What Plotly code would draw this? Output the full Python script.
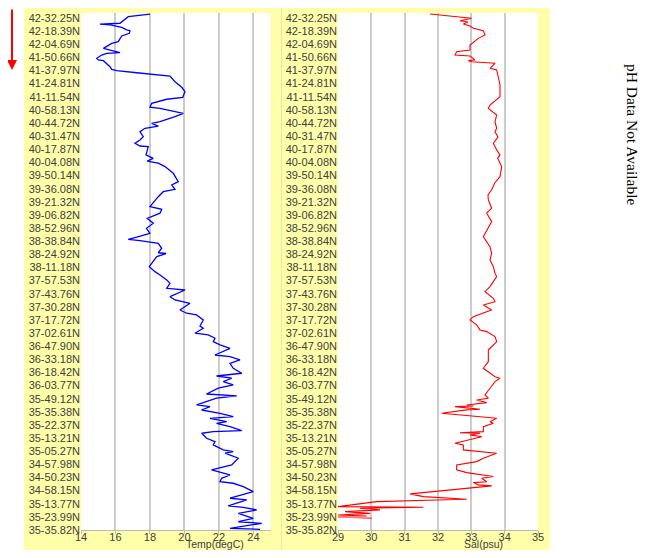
import plotly.graph_objects as go

# Track position (label units, 0 = first label at top) and values
lat_labels = ["42-32.25N", "42-18.39N", "42-04.69N", "41-50.66N", "41-37.97N", "41-24.81N",
              "41-11.54N", "40-58.13N", "40-44.72N", "40-31.47N", "40-17.87N", "40-04.08N",
              "39-50.14N", "39-36.08N", "39-21.32N", "39-06.82N", "38-52.96N", "38-38.84N",
              "38-24.92N", "38-11.18N", "37-57.53N", "37-43.76N", "37-30.28N", "37-17.72N",
              "37-02.61N", "36-47.90N", "36-33.18N", "36-18.42N", "36-03.77N", "35-49.12N",
              "35-35.38N", "35-22.37N", "35-13.21N", "35-05.27N", "34-57.98N", "34-50.23N",
              "34-58.15N", "35-13.77N", "35-23.99N", "35-35.82N"]

temp_track = [-0.30, -0.10, 0.40, 0.46, 0.53, 0.61, 0.71, 0.91, 0.97, 1.17, 1.37, 1.80, 1.93,
              2.31, 2.44, 2.64, 2.69, 2.82, 3.07, 3.20, 3.25, 3.45, 3.71, 3.91, 4.01, 4.17,
              4.42, 4.85, 5.28, 5.61, 6.04, 6.19, 6.50, 6.80, 6.88, 7.26, 7.52, 7.90, 8.02,
              8.23, 8.40, 8.66, 9.04, 9.29, 9.54, 9.75, 9.80, 10.43, 10.69, 10.90, 11.05,
              11.32, 11.83, 12.47, 12.72, 13.05, 13.23, 13.61, 13.91, 14.37, 14.57, 14.87,
              15.26, 15.64, 16.02, 16.40, 16.70, 16.86, 16.96, 17.16, 17.54, 17.88, 17.94,
              18.18, 18.94, 19.32, 19.57, 19.95, 20.21, 20.59, 20.72, 21.23, 21.48, 21.73,
              22.24, 22.49, 22.62, 23.00, 23.46, 23.63, 24.01, 24.14, 24.39, 24.65, 24.90,
              25.16, 25.67, 25.80, 26.05, 26.30, 26.68, 27.06, 27.27, 27.44, 27.70, 27.95,
              28.20, 28.64, 28.79, 28.96, 29.47, 29.60, 29.86, 29.98, 30.11, 30.37, 30.49,
              30.75, 30.87, 31.13, 31.43, 31.51, 31.63, 32.01, 32.27, 32.52, 32.90, 33.03,
              33.15, 33.53, 34.04, 34.42, 34.68, 34.81, 35.06, 35.32, 35.44, 35.70, 36.08,
              36.58, 36.71, 37.17, 37.27, 37.47, 37.73, 38.11, 38.37, 38.49, 38.87, 38.95]
temp_vals = [18.00, 16.74, 16.26, 15.10, 15.70, 16.07, 16.36, 16.65, 16.84, 16.80, 16.36, 16.16,
             15.78, 15.30, 15.68, 16.26, 15.49, 15.20, 14.91, 15.00, 15.30, 15.49, 15.68, 15.78,
             16.07, 17.23, 19.16, 19.45, 19.84, 20.03, 19.90, 18.97, 18.10, 18.00, 18.58, 19.93,
             19.45, 18.58, 18.10, 18.48, 17.71, 17.42, 17.61, 17.42, 17.13, 17.42, 17.90, 17.77,
             18.19, 17.84, 18.48, 18.87, 19.35, 19.64, 19.26, 19.45, 18.77, 18.48, 18.29, 18.00,
             18.68, 18.58, 17.84, 18.19, 17.80, 18.00, 17.23, 16.74, 17.42, 18.48, 18.68, 18.48,
             18.93, 18.39, 17.96, 18.29, 18.58, 18.97, 19.16, 18.97, 20.03, 19.16, 19.45, 20.32,
             19.74, 20.13, 20.70, 21.09, 20.90, 21.09, 20.61, 21.38, 21.77, 21.67, 22.06, 22.64,
             21.77, 22.64, 23.22, 22.64, 22.83, 23.32, 21.86, 22.74, 22.25, 22.83, 21.96, 21.28,
             23.03, 21.86, 20.70, 21.48, 21.00, 21.57, 22.06, 22.83, 21.48, 22.45, 21.86, 22.64,
             23.32, 21.67, 21.00, 21.28, 21.77, 21.67, 22.25, 22.83, 22.35, 23.12, 22.74, 21.57,
             22.25, 22.64, 22.15, 22.06, 22.83, 23.41, 23.99, 22.64, 23.61, 22.54, 23.41, 24.19,
             23.12, 23.99, 23.12, 24.48, 22.64, 24.38]

sal_track = [-0.30, 0.02, 0.21, 0.30, 0.46, 0.61, 0.78, 0.97, 1.29, 1.55, 2.06, 2.44, 2.57,
             2.82, 2.89, 3.20, 3.25, 3.33, 3.45, 3.83, 3.96, 4.47, 5.10, 5.99, 6.19, 6.63,
             6.88, 7.21, 7.39, 7.90, 8.40, 8.66, 9.06, 9.54, 10.05, 10.43, 10.69, 11.32,
             12.09, 12.57, 13.09, 13.48, 13.86, 14.49, 14.87, 15.51, 15.99, 16.66, 17.42,
             17.92, 18.43, 18.94, 19.44, 19.70, 20.46, 20.84, 21.35, 21.61, 21.86, 22.24,
             22.37, 22.75, 23.00, 23.38, 23.76, 23.89, 24.27, 24.65, 25.29, 26.18, 26.68,
             26.94, 27.32, 27.44, 27.70, 28.20, 28.71, 28.96, 29.10, 29.30, 29.48, 29.55,
             29.60, 29.80, 29.85, 30.11, 30.49, 30.75, 30.87, 31.13, 31.51, 31.59, 31.63,
             31.76, 31.89, 32.39, 32.52, 32.90, 33.03, 33.15, 33.53, 33.79, 34.04, 34.42,
             34.63, 34.73, 34.93, 35.06, 35.32, 35.39, 35.56, 35.64, 35.81, 36.25, 36.46,
             36.66, 36.71, 36.84, 37.22, 37.27, 37.34, 37.47, 37.60, 37.73, 37.86, 37.93,
             38.01, 38.11]
sal_vals = [31.76, 33.01, 32.66, 32.90, 32.76, 32.96, 33.06, 33.36, 33.41, 33.21, 32.96, 32.96,
            32.56, 32.51, 32.96, 33.11, 32.91, 33.01, 33.71, 33.56, 33.76, 33.81, 33.86, 33.86,
            33.76, 33.56, 33.51, 33.66, 33.76, 33.71, 33.76, 33.71, 33.80, 33.66, 33.76, 33.86,
            33.79, 33.91, 33.86, 33.70, 33.61, 33.50, 33.51, 33.61, 33.46, 33.61, 33.50, 33.36,
            33.56, 33.61, 33.56, 33.66, 33.71, 33.76, 33.56, 33.41, 33.66, 33.71, 33.36, 33.61,
            33.46, 33.06, 32.96, 33.16, 33.26, 33.46, 33.71, 33.76, 33.51, 33.51, 33.36, 33.51,
            33.71, 33.86, 33.71, 33.56, 33.41, 33.51, 33.16, 33.46, 32.86, 33.06, 32.51, 33.26,
            32.86, 32.11, 33.76, 33.56, 33.66, 33.36, 33.36, 32.66, 33.26, 32.96, 33.31, 32.51,
            32.76, 32.76, 33.36, 33.76, 33.36, 33.16, 32.56, 32.56, 32.86, 33.16, 33.66, 33.31,
            33.46, 33.06, 33.21, 33.61, 32.96, 31.16, 31.56, 32.86, 31.96, 30.16, 29.00, 31.56,
            29.66, 30.26, 29.21, 29.96, 29.00, 29.86, 29.00, 30.01]

temp_ticks = [14, 16, 18, 20, 22, 24]
sal_ticks = [29, 30, 31, 32, 33, 34, 35]

# figure sized to fit inside the page's default 8px body margin
OFF = 8
W, H = 649 - 2 * OFF, 558 - 2 * OFF


def px(x):
    return (x - OFF) / W


def py(y):
    return 1 - (y - OFF) / H


fig = go.Figure()
fig.add_trace(go.Scatter(x=temp_vals, y=temp_track, mode="lines",
                         line=dict(color="#0000FF", width=1.3), xaxis="x", yaxis="y",
                         showlegend=False, hoverinfo="skip"))
fig.add_trace(go.Scatter(x=sal_vals, y=sal_track, mode="lines",
                         line=dict(color="#FF0000", width=1.1), xaxis="x2", yaxis="y2",
                         showlegend=False, hoverinfo="skip"))

tickfont = dict(family="Liberation Sans", size=11, color="#404040")
yr = [39, -0.38]
common_x = dict(showgrid=True, gridcolor="#CCCCCC", gridwidth=1.5, zeroline=False,
                showline=True, linecolor="#BBBBBB", linewidth=1, ticks="outside",
                ticklen=3, tickcolor="#BBBBBB", tickfont=tickfont, ticklabelstandoff=-6,
                automargin=False)
common_y = dict(range=yr, tickmode="array", tickvals=list(range(len(lat_labels))),
                ticktext=lat_labels, showgrid=False, zeroline=False, showline=False,
                ticks="", tickfont=tickfont, automargin=False)

plot_l = [81, 338]
plot_r = [270.7, 538]
plot_t, plot_b = 13, 530

shapes = [
    dict(type="rect", xref="paper", yref="paper", x0=px(24), x1=px(281), y0=py(556), y1=py(2),
         fillcolor="#FFFFAA", line=dict(width=0), layer="below"),
    dict(type="rect", xref="paper", yref="paper", x0=px(282), x1=px(550), y0=py(556), y1=py(2),
         fillcolor="#FFFFAA", line=dict(width=0), layer="below"),
    dict(type="line", xref="paper", yref="paper", x0=px(281.5), x1=px(281.5), y0=py(556), y1=py(2),
         line=dict(color="#E6E6B4", width=1), layer="below"),
]
for l, r in zip(plot_l, plot_r):
    shapes.append(dict(type="rect", xref="paper", yref="paper", x0=px(l), x1=px(r),
                       y0=py(plot_b), y1=py(plot_t), fillcolor="white",
                       line=dict(width=0), layer="below"))

fig.update_layout(
    width=W, height=H, margin=dict(l=0, r=0, t=0, b=0, autoexpand=False),
    paper_bgcolor="white", plot_bgcolor="white",
    xaxis=dict(domain=[px(plot_l[0]), px(plot_r[0])], range=[14, 25], tickvals=temp_ticks,
               anchor="y", **common_x),
    yaxis=dict(domain=[py(plot_b), py(plot_t)], anchor="x", **common_y),
    xaxis2=dict(domain=[px(plot_l[1]), px(plot_r[1])], range=[29, 35], tickvals=sal_ticks,
                anchor="y2", **common_x),
    yaxis2=dict(domain=[py(plot_b), py(plot_t)], anchor="x2", **common_y),
    shapes=shapes,
    annotations=[
        dict(text="Temp(degC)", xref="paper", yref="paper", x=px(215), y=py(550.5),
             xanchor="center", yanchor="bottom", showarrow=False, borderpad=0,
             font=dict(family="Liberation Sans", size=10.5, color="#404040")),
        dict(text="Sal(psu)", xref="paper", yref="paper", x=px(483), y=py(550.5),
             xanchor="center", yanchor="bottom", showarrow=False, borderpad=0,
             font=dict(family="Liberation Sans", size=10.5, color="#404040")),
        dict(text="pH Data Not Available", xref="paper", yref="paper", x=px(632), y=py(134),
             xanchor="center", yanchor="middle", showarrow=False, textangle=90,
             font=dict(family="Liberation Serif", size=15.5, color="black")),
        dict(text="", xref="paper", yref="paper", axref="pixel", ayref="pixel",
             x=px(12), y=py(70), ax=0, ay=-62, showarrow=True,
             arrowhead=2, arrowsize=1, arrowwidth=2, arrowcolor="#FF0000"),
    ],
)

fig.write_html("out.html")
